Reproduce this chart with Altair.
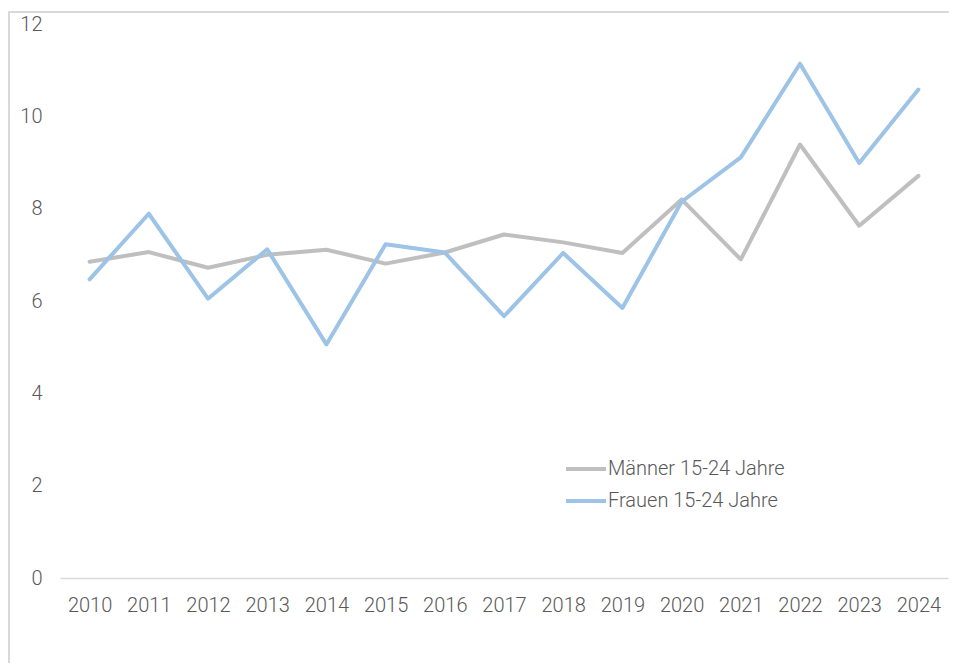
import altair as alt
import pandas as pd

years = [str(y) for y in range(2010, 2025)]
maenner = [6.85, 7.06, 6.72, 7.00, 7.11, 6.81, 7.05, 7.44, 7.27, 7.04, 8.20, 6.90, 9.39, 7.63, 8.71]
frauen = [6.47, 7.89, 6.05, 7.12, 5.06, 7.23, 7.05, 5.67, 7.04, 5.85, 8.15, 9.11, 11.14, 8.99, 10.58]
series = ["Männer 15-24 Jahre", "Frauen 15-24 Jahre"]
colors = ["#BFBFBF", "#9DC3E6"]

rows = []
for y, v in zip(years, maenner):
    rows.append({"Jahr": y, "Wert": v, "Gruppe": series[0]})
for y, v in zip(years, frauen):
    rows.append({"Jahr": y, "Wert": v, "Gruppe": series[1]})
df = pd.DataFrame(rows)

FONT = "Roboto"
TXT = "#595959"

lines = alt.Chart(df).mark_line(strokeWidth=4, strokeCap="round", strokeJoin="round").encode(
    x=alt.X("Jahr:O", sort=years, scale=alt.Scale(padding=0.5),
            axis=alt.Axis(title=None, labelAngle=0, labelFontSize=20, labelFont=FONT,
                          labelFontWeight=300, labelColor=TXT, labelPadding=17,
                          ticks=False, domainColor="#D9D9D9", domainWidth=1.3)),
    y=alt.Y("Wert:Q", scale=alt.Scale(domain=[0, 12]),
            axis=alt.Axis(title=None, values=[0, 2, 4, 6, 8, 10, 12], grid=False, domain=False,
                          ticks=False, labelFontSize=20, labelFont=FONT, labelFontWeight=300,
                          labelColor=TXT, labelPadding=18)),
    color=alt.Color("Gruppe:N", scale=alt.Scale(domain=series, range=colors),
                    legend=alt.Legend(title=None, orient="none", legendX=504, legendY=423,
                                      symbolType="stroke", symbolSize=1600, symbolStrokeWidth=4,
                                      labelFontSize=20, labelFont=FONT, labelFontWeight=300,
                                      labelColor=TXT, labelOffset=0, labelLimit=400,
                                      rowPadding=-8, padding=0)),
    order=alt.Order("Gruppe:N", sort="descending"),
)

frame_data = alt.Data(values=[{"k": 1}])
frame_top = alt.Chart(frame_data).mark_rule(color="#D9D9D9", strokeWidth=2).encode(
    x=alt.value(-60), x2=alt.value(900), y=alt.value(-12)
)
frame_left = alt.Chart(frame_data).mark_rule(color="#D9D9D9", strokeWidth=2).encode(
    x=alt.value(-51), y=alt.value(-12), y2=alt.value(700)
)

chart = alt.layer(frame_top, frame_left, lines).properties(
    width=888, height=554,
    autosize=alt.AutoSizeParams(type="none"),
    padding={"left": 52, "top": 16, "right": 1, "bottom": 85},
).configure(
    background="white",
    view=alt.ViewConfig(strokeWidth=0, stroke="transparent"),
)

chart.save("out.html", embed_options={"renderer": "svg", "actions": False})
